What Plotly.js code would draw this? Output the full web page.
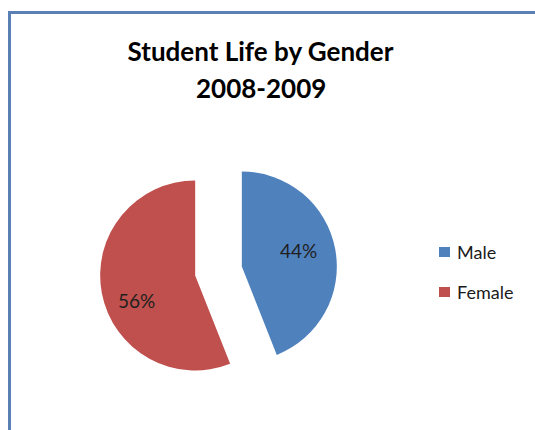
<!DOCTYPE html>
<html>
<head>
<meta charset="utf-8">
<script src="https://cdn.plot.ly/plotly-3.0.1.min.js"></script>
<style>html,body{margin:0;padding:0;background:#fff;overflow:hidden;}#chart{width:535px;height:430px;}</style>
</head>
<body>
<div id="chart"></div>
<script>
const labels = ['Male', 'Female'];
const values = [44, 56];
const colors = ['#4F81BD', '#C0504D'];
const titleLines = ['Student Life by Gender', '2008-2009'];

const W = 535, H = 430;
const px = x => x / W;
const py = y => 1 - y / H;

const FONT = 'Lato, "Open Sans", sans-serif';

const trace = {
  type: 'pie',
  labels: labels,
  values: values,
  marker: { colors: colors, line: { width: 0 } },
  sort: false,
  direction: 'clockwise',
  rotation: 0,
  pull: [0.25, 0.25],
  textinfo: 'none',
  hoverinfo: 'none',
  showlegend: false,
  domain: { x: [px(99.75), px(337.25)], y: [py(390), py(152)] }
};

const total = values.reduce((a, b) => a + b, 0);

const shapes = [
  { type: 'line', xref: 'paper', yref: 'paper', x0: px(8), x1: 1, y0: py(12.5), y1: py(12.5),
    line: { color: '#5B80B6', width: 3 } },
  { type: 'line', xref: 'paper', yref: 'paper', x0: px(9.5), x1: px(9.5), y0: py(11), y1: 0,
    line: { color: '#5B80B6', width: 3 } }
];
const annotations = [
  { xref: 'paper', yref: 'paper', x: px(260.5), y: py(88), xanchor: 'center', yanchor: 'middle',
    text: '<b>' + titleLines[1] + '</b>', showarrow: false, font: { family: FONT, size: 26, color: '#000' } }
];
// data labels (percent of total), placed like the original chart's labels
const labelPos = [[298, 250], [136, 300]];
values.forEach((v, i) => {
  annotations.push({ xref: 'paper', yref: 'paper', x: px(labelPos[i][0]), y: py(labelPos[i][1]),
    xanchor: 'center', yanchor: 'middle', text: Math.round(v / total * 100) + '%', showarrow: false,
    font: { family: FONT, size: 19, color: '#1f1f1f' } });
});
const legendY = [252, 292];
labels.forEach((lab, i) => {
  shapes.push({ type: 'rect', xref: 'paper', yref: 'paper', x0: px(439), x1: px(450),
    y0: py(legendY[i] - 5), y1: py(legendY[i] + 5), fillcolor: colors[i], line: { width: 0 } });
  annotations.push({ xref: 'paper', yref: 'paper', x: px(455), y: py(legendY[i]), xanchor: 'left', yanchor: 'middle',
    text: lab, showarrow: false, font: { family: FONT, size: 18, color: '#1a1a1a' } });
});

const layout = {
  width: W, height: H,
  margin: { l: 0, r: 0, t: 0, b: 0 },
  paper_bgcolor: '#ffffff',
  title: { text: '<b>' + titleLines[0] + '</b>', x: px(260.5), xanchor: 'center', xref: 'paper',
    y: py(52), yref: 'paper', yanchor: 'middle', font: { family: FONT, size: 26, color: '#000' } },
  showlegend: false,
  shapes: shapes,
  annotations: annotations
};

Plotly.newPlot('chart', [trace], layout, { displayModeBar: false, staticPlot: true });
</script>
</body>
</html>
